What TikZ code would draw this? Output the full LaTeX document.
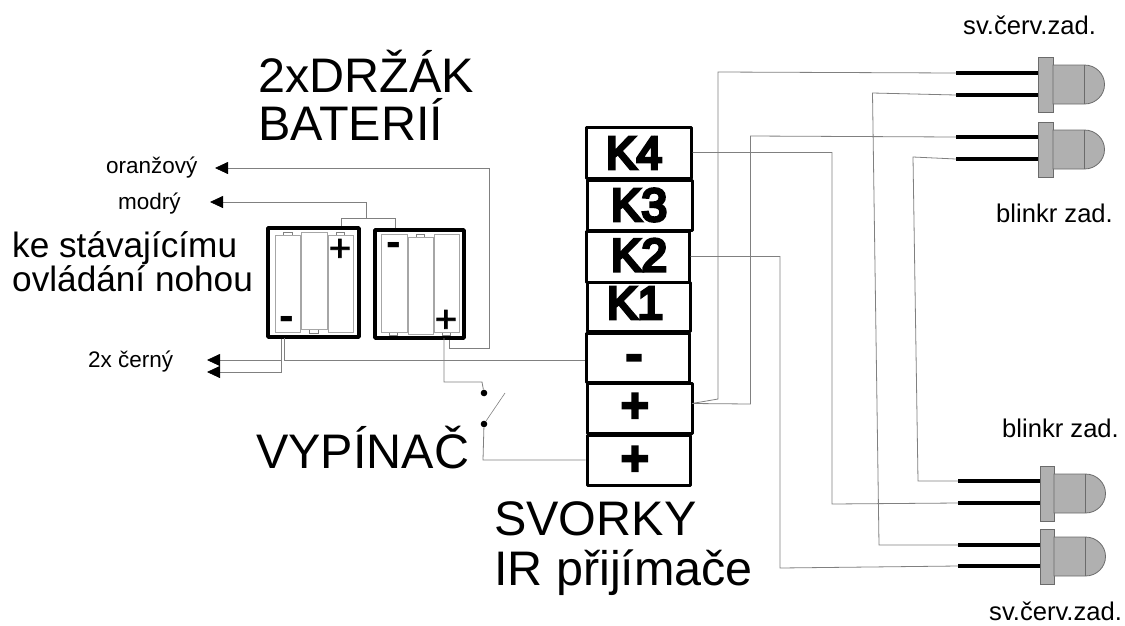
\documentclass[tikz,border=0pt]{standalone}
\usepackage{fontspec}
\setmainfont{Liberation Sans}
\newfontfamily\kfont[FakeBold=7]{Liberation Sans}
\newfontfamily\sgnfont[FakeBold=9]{Liberation Sans}
\newfontfamily\hfont[FakeBold=2]{Liberation Sans}
\newfontfamily\bfont{Liberation Sans Bold}
\usetikzlibrary{arrows.meta}
\colorlet{wire}{black!50}
\colorlet{ledgrey}{black!31}
\colorlet{ledline}{black!58}
\tikzset{
  lab/.style={inner sep=0pt,anchor=base west,align=left},
  biglab/.style={lab,font=\fontsize{48.5}{48}\selectfont},
  midlab/.style={lab,font=\fontsize{35.2}{37}\selectfont},
  smalllab/.style={lab,font=\fontsize{22.5}{22}\selectfont},
  ledlab/.style={lab,font=\fontsize{25.6}{26}\selectfont},
  wireline/.style={draw=wire,line width=.8pt,line join=miter},
  arrowwire/.style={wireline,{Triangle[length=13pt,width=12pt,color=black]}-},
  holder/.style={draw=black,line width=3.6pt,line join=round,fill=white},
  cell/.style={draw=black!35,line width=.8pt},
  nub/.style={draw=black!50,line width=.5pt,fill=white},
  term/.style={draw=black,line width=3pt,line join=round,fill=white,inner sep=0pt},
  termtext/.style={inner sep=0pt,font=\kfont\fontsize{46}{46}\selectfont},
  signtext/.style={inner sep=0pt,anchor=base,font=\sgnfont\fontsize{46}{46}\selectfont},
  holdplus/.style={inner sep=0pt,anchor=base,font=\hfont\fontsize{38}{38}\selectfont},
  holdminus/.style={inner sep=0pt,anchor=base,font=\bfont\fontsize{44}{44}\selectfont},
  leadwire/.style={draw=black,line width=4.4pt},
  ledpart/.style={draw=ledline,line width=.8pt,fill=ledgrey},
  dot/.style={circle,fill=black,inner sep=0pt,minimum size=6.6pt},
}
\newcommand{\termbox}[6]{\node[term,minimum width=#3-#2,minimum height=#5-#4] (#1) at ({(#2+#3)/2},{(#4+#5)/2}) {};}
\newcommand{\leddev}[4]{% x flange left, flange top, body left
  \path[ledpart] (#1,#2) rectangle (#3,#2+55.5);
  \path[ledpart] (#3,#2+8) -- (#3+31.5,#2+8) arc[start angle=-90,end angle=90,x radius=20,y radius=19.5] -- (#3,#2+47) -- cycle;
  \draw[draw=ledline,line width=.8pt] (#3+31.5,#2+8) -- (#3+31.5,#2+47);
}
\begin{document}
\begin{tikzpicture}[x=1pt,y=-1pt]
\useasboundingbox (0,0) rectangle (1125,625);
% coordinates
\coordinate (o1) at (215,168);
\coordinate (o2) at (489,168);
\coordinate (o3) at (489,348);
\coordinate (o4) at (449,348);
\coordinate (o5) at (449,338);
\coordinate (m1) at (210,202);
\coordinate (m2) at (366,202);
\coordinate (m3) at (366,218);
\coordinate (h1) at (341,226);
\coordinate (h2) at (341,218);
\coordinate (h3) at (395,218);
\coordinate (h4) at (395,228);
\coordinate (c1) at (207,360);
\coordinate (c2) at (207,372);
\coordinate (c3) at (281,372);
\coordinate (c4) at (281,338);
\coordinate (c5) at (281,360);
\coordinate (n1) at (284,338);
\coordinate (n2) at (284,360);
\coordinate (s1) at (444,338);
\coordinate (s2) at (444,382);
\coordinate (s3) at (482,382);
\coordinate (s5) at (483,460);
\coordinate (lev) at (505,393);
% wires behind
\path[wireline] (h1) -- (h2) -- (h3) -- (h4);
\path[arrowwire] (o1) -- (o2) -- (o3) -- (o4) -- (o5);
\path[arrowwire] (m1) -- (m2) -- (m3);
\path[arrowwire] (c1) -- (c5);
\path[arrowwire] (c2) -- (c3) -- (c4);
% holders
\draw[holder] (268,228) rectangle (359,337);
\draw[holder] (375,230) rectangle (464,338);
\draw[nub] (283,232) rectangle (292,235);
\draw[nub] (309,329) rectangle (318,333);
\draw[nub] (336,232) rectangle (344,235);
\draw[cell] (275.5,235) rectangle (300,332);
\draw[cell] (301,232) rectangle (327,329);
\draw[cell] (328,235) rectangle (353,332);
\draw[nub] (389,332) rectangle (397,335);
\draw[nub] (416,234) rectangle (424,237);
\draw[nub] (442,332) rectangle (450,335);
\draw[cell] (381,234) rectangle (407,332);
\draw[cell] (408,237) rectangle (433,334);
\draw[cell] (434,234) rectangle (459,332);
\node[holdplus] (hp1) at (340,261) {+};
\node[holdminus] (hm1) at (287,330) {-};
\node[holdminus] (hm2) at (394,256) {-};
\node[holdplus] (hp2) at (446,332) {+};
% terminals
\termbox{k4}{586}{691}{127}{178}{}
\termbox{k3}{587}{692}{180}{230}{}
\termbox{k2}{586}{689}{231}{282}{}
\termbox{k1}{587}{690}{282}{331}{}
\termbox{tm}{586}{689}{333}{382}{}
\termbox{tpa}{587}{692}{383}{433}{}
\termbox{tpb}{587}{690}{435}{485}{}
\node[termtext] (tk4) at (634,153) {K4};
\node[termtext] (tk3) at (639,205) {K3};
\node[termtext] (tk2) at (639,255) {K2};
\node[termtext] (tk1) at (635,303) {K1};
\node[signtext] (tmm) at (634,370) {-};
\node[signtext] (tpp) at (635,421) {+};
\node[signtext] (tqq) at (635,474) {+};
% switch
\node[dot] (d1) at (484,393) {};
\node[dot] (d2) at (484,424) {};
\path[wireline] (s1) -- (s2) -- (s3) -- (d1);
\path[wireline] (d2) -- (s5) -- (tpb.west);
\path[wireline] (n1) -- (n2) -- (tm.west |- n2);
\draw[draw=wire,line width=.6pt] (d2) -- (lev);
% LED leads
\coordinate (a1) at (956,73); \coordinate (a1e) at (1038,73);
\coordinate (a2) at (956,95); \coordinate (a2e) at (1038,95);
\coordinate (a3) at (956,137); \coordinate (a3e) at (1038,137);
\coordinate (a4) at (956,159); \coordinate (a4e) at (1038,159);
\coordinate (b1) at (958,481); \coordinate (b1e) at (1040,481);
\coordinate (b2) at (958,503); \coordinate (b2e) at (1040,503);
\coordinate (b3) at (958,545); \coordinate (b3e) at (1040,545);
\coordinate (b4) at (958,566); \coordinate (b4e) at (1040,566);
\foreach \p in {a1,a2,a3,a4,b1,b2,b3,b4} {\path[leadwire] (\p) -- (\p e);}
% LED wires
\coordinate (tp) at (692,403.5);
\coordinate (w1) at (718,399);
\coordinate (w2) at (718,72);
\coordinate (w3) at (750.5,404);
\coordinate (w4) at (750.5,136);
\coordinate (w5) at (832,152.5);
\coordinate (w6) at (832,504);
\coordinate (w7) at (780,256.5);
\coordinate (w8) at (780,568);
\coordinate (w9) at (872.5,93);
\coordinate (w10) at (879,545);
\coordinate (w11) at (913,157);
\coordinate (w12) at (918,481);
\path[wireline] (tp) -- (w1) -- (w2) -- (a1);
\path[wireline] (tp) -- (w3) -- (w4) -- (a3);
\path[wireline] (k4.east) -- (w5) -- (w6) -- (b2);
\path[wireline] (k2.east) -- (w7) -- (w8) -- (b4);
\path[wireline] (a2) -- (w9) -- (w10) -- (b3);
\path[wireline] (a4) -- (w11) -- (w12) -- (b1);
% LEDs
\leddev{1038}{57}{1053}{}
\leddev{1038}{122}{1053}{}
\leddev{1040}{466}{1054}{}
\leddev{1040}{529}{1054}{}
% labels
\node[biglab] (t1) at (258,92) {2xDRŽÁK};
\node[biglab] (t2) at (258,140) {BATERIÍ};
\node[midlab] (t3) at (12,257) {ke stávajícímu};
\node[midlab] (t4) at (12,291) {ovládání nohou};
\node[biglab] (t5) at (256,468) {VYPÍNAČ};
\node[biglab] (t6) at (494,535) {SVORKY};
\node[biglab] (t7) at (494,585) {IR přijímače};
\node[ledlab] (l1) at (963,34) {sv.červ.zad.};
\node[ledlab] (l2) at (996,222) {blinkr zad.};
\node[ledlab] (l3) at (1002,437) {blinkr zad.};
\node[ledlab] (l4) at (989,620) {sv.červ.zad.};
\node[smalllab] (l5) at (106,173) {oranžový};
\node[smalllab] (l6) at (118,209) {modrý};
\node[smalllab] (l7) at (88,367) {2x černý};
\end{tikzpicture}
\end{document}
